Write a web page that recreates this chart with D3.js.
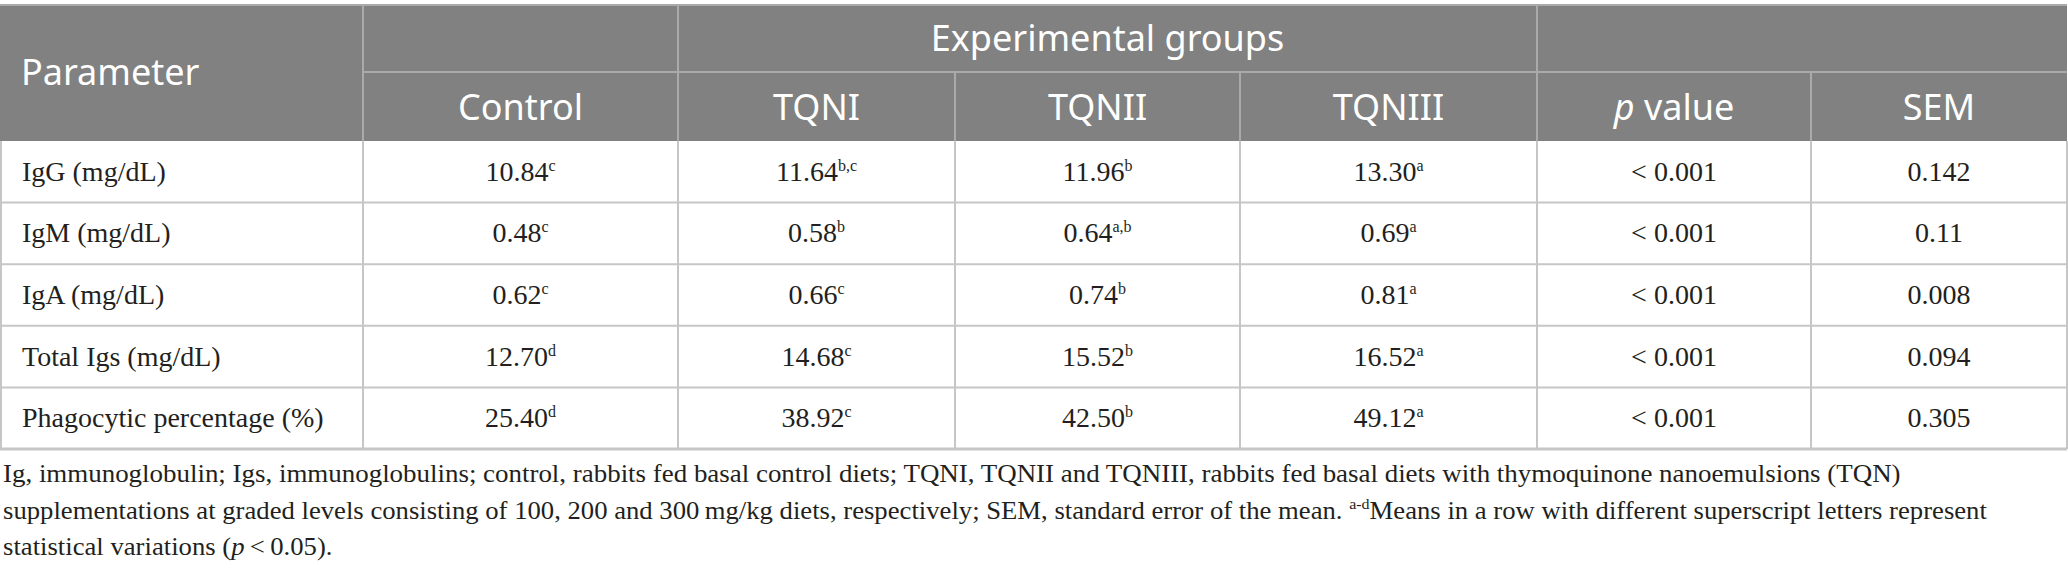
<!DOCTYPE html>
<html>
<head>
<meta charset="utf-8">
<script src="https://cdn.jsdelivr.net/npm/d3@7"></script>
<style>
  body { margin: 0; background: #fff; }
  svg { display: block; }
</style>
</head>
<body>
<div id="chart"></div>
<script>
// table contents
var parameters = ["IgG (mg/dL)", "IgM (mg/dL)", "IgA (mg/dL)", "Total Igs (mg/dL)", "Phagocytic percentage (%)"];
var groups = ["Control", "TQNI", "TQNII", "TQNIII"];
var controlVals = ["10.84", "0.48", "0.62", "12.70", "25.40"];
var controlSup  = ["c", "c", "c", "d", "d"];
var tqn1Vals = ["11.64", "0.58", "0.66", "14.68", "38.92"];
var tqn1Sup  = ["b,c", "b", "c", "c", "c"];
var tqn2Vals = ["11.96", "0.64", "0.74", "15.52", "42.50"];
var tqn2Sup  = ["b", "a,b", "b", "b", "b"];
var tqn3Vals = ["13.30", "0.69", "0.81", "16.52", "49.12"];
var tqn3Sup  = ["a", "a", "a", "a", "a"];
var pValues = ["< 0.001", "< 0.001", "< 0.001", "< 0.001", "< 0.001"];
var semVals = ["0.142", "0.11", "0.008", "0.094", "0.305"];

var W = 2068, H = 575;
var colEdges = [0, 363, 678, 955, 1240, 1537, 1811, 2067];
var headTop = 5, headMid = 72, headBot = 141, tableBot = 449;

var svg = d3.select('#chart').append('svg')
  .attr('width', W).attr('height', H);

var rowScale = d3.scaleBand()
  .domain(d3.range(parameters.length))
  .range([headBot, tableBot]);

// header block
svg.append('rect')
  .attr('x', 0).attr('y', headTop)
  .attr('width', colEdges[7]).attr('height', headBot - headTop)
  .style('fill', '#808180');

var hline = '#a9aaa9', bline = '#c6c6c6';
var sans = "'Noto Sans', sans-serif", serif = "'Liberation Serif', 'Times New Roman', serif";
var ink = '#231f20';

svg.append('line').attr('x1', 0).attr('x2', colEdges[7]).attr('y1', headTop).attr('y2', headTop)
  .style('stroke', hline).style('stroke-width', 2);
svg.append('line').attr('x1', colEdges[1]).attr('x2', colEdges[7]).attr('y1', headMid).attr('y2', headMid)
  .style('stroke', hline).style('stroke-width', 2);

// header verticals: full height where the top row has a cell edge
[1, 2, 5].forEach(function(i){
  svg.append('line').attr('x1', colEdges[i]).attr('x2', colEdges[i]).attr('y1', headTop).attr('y2', headBot)
    .style('stroke', hline).style('stroke-width', 2);
});
[3, 4, 6].forEach(function(i){
  svg.append('line').attr('x1', colEdges[i]).attr('x2', colEdges[i]).attr('y1', headMid).attr('y2', headBot)
    .style('stroke', hline).style('stroke-width', 2);
});

// header labels
svg.append('text').attr('x', 21).attr('y', (headTop + headBot) / 2 + 12)
  .style('font-family', sans).style('font-size', '36px').style('fill', '#fff')
  .text('Parameter');
svg.append('text').attr('x', (colEdges[2] + colEdges[5]) / 2).attr('y', (headTop + headMid) / 2 + 12)
  .attr('text-anchor', 'middle')
  .style('font-family', sans).style('font-size', '36px').style('fill', '#fff')
  .text('Experimental groups');

var subHeads = groups.concat(['p value', 'SEM']);
svg.selectAll('.subhead').data(subHeads).enter()
  .append('text').attr('class', 'subhead')
  .attr('x', function(d, i){ return (colEdges[i + 1] + colEdges[i + 2]) / 2; })
  .attr('y', (headMid + headBot) / 2 + 13)
  .attr('text-anchor', 'middle')
  .style('font-family', sans).style('font-size', '36px').style('fill', '#fff')
  .each(function(d){
    var t = d3.select(this);
    if (d === 'p value') {
      t.append('tspan').style('font-style', 'italic').text('p');
      t.append('tspan').text(' value');
    } else t.text(d);
  });

// body grid
var body = svg.append('g');
d3.range(1, parameters.length + 1).forEach(function(i){
  var y = i < parameters.length ? rowScale(i) : tableBot;
  body.append('line').attr('x1', 0).attr('x2', colEdges[7]).attr('y1', y).attr('y2', y)
    .style('stroke', bline).style('stroke-width', i === parameters.length ? 3 : 2);
});
colEdges.forEach(function(x){
  body.append('line').attr('x1', x === 0 ? 1 : x).attr('x2', x === 0 ? 1 : x)
    .attr('y1', headBot).attr('y2', tableBot)
    .style('stroke', bline).style('stroke-width', 2);
});

// rows
var columns = [
  { vals: controlVals, sup: controlSup },
  { vals: tqn1Vals, sup: tqn1Sup },
  { vals: tqn2Vals, sup: tqn2Sup },
  { vals: tqn3Vals, sup: tqn3Sup },
  { vals: pValues, sup: null },
  { vals: semVals, sup: null }
];

var rows = svg.selectAll('.row').data(parameters).enter()
  .append('g').attr('class', 'row')
  .attr('transform', function(d, i){ return 'translate(0,' + (rowScale(i) + rowScale.bandwidth() / 2 + 9) + ')'; });

rows.append('text').attr('x', 22)
  .style('font-family', serif).style('font-size', '28px').style('fill', ink)
  .text(function(d){ return d; });

columns.forEach(function(c, ci){
  rows.append('text')
    .attr('x', (colEdges[ci + 1] + colEdges[ci + 2]) / 2)
    .attr('text-anchor', 'middle')
    .style('font-family', serif).style('font-size', '28px').style('fill', ink)
    .each(function(d, ri){
      var t = d3.select(this);
      t.append('tspan').text(c.vals[ri]);
      if (c.sup) t.append('tspan').attr('dy', -10).style('font-size', '16px').text(c.sup[ri]);
    });
});

// footnote, each line stretched to the width it has in the source
var noteLines = [
  [["Ig, immunoglobulin; Igs, immunoglobulins; control, rabbits fed basal control diets; TQNI, TQNII and TQNIII, rabbits fed basal diets with thymoquinone nanoemulsions (TQN)", null]],
  [["supplementations at graded levels consisting of 100, 200 and 300\u2009mg/kg diets, respectively; SEM, standard error of the mean. ", null], ["a-d", "sup"], ["Means in a row with different superscript letters represent", "down"]],
  [["statistical variations (", null], ["p", "it"], ["\u2009<\u20090.05).", null]]
];
var noteY = [482, 519, 555];
var noteEnd = [1902, 1988, null];
var noteX = 3;
var lastScale = 1;

noteLines.forEach(function(parts, li){
  var g = svg.append('g');
  var t = g.append('text').attr('x', 0).attr('y', 0)
    .style('font-family', serif).style('font-size', '25px').style('fill', ink);
  parts.forEach(function(p){
    var s = t.append('tspan').text(p[0]);
    if (p[1] === 'it') s.style('font-style', 'italic');
    if (p[1] === 'sup') s.attr('dy', -10).style('font-size', '15px');
    if (p[1] === 'down') s.attr('dy', 10);
  });
  var sx = lastScale;
  if (noteEnd[li]) {
    var w = t.node().getComputedTextLength();
    sx = (noteEnd[li] - noteX) / w;
    lastScale = sx;
  }
  g.attr('transform', 'translate(' + noteX + ',' + noteY[li] + ') scale(' + sx + ',1)');
});
</script>
</body>
</html>
